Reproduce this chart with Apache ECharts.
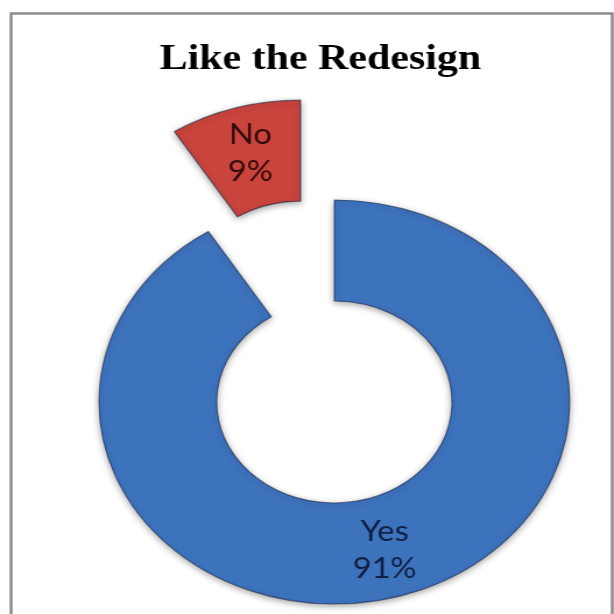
<!DOCTYPE html>
<html>
<head>
<meta charset="utf-8">
<script src="https://cdn.jsdelivr.net/npm/echarts@6/dist/echarts.min.js"></script>
<style>
  html, body { margin: 0; padding: 0; background: #ffffff; overflow: hidden; }
  /* the chart is drawn narrow and stretched sideways, which makes the ring an ellipse */
  #chart { width: 527px; height: 614px; transform: scaleX(1.165); transform-origin: 0 0; }
</style>
</head>
<body>
<div id="chart"></div>
<script>
const chartTitle = 'Like the Redesign';
const categories = ['Yes', 'No'];
const values = [91, 9];
const sliceColors = ['#3d72bd', '#c9443d'];
const labelColors = ['#0f2044', '#330b09'];
const explodedSlice = 'No';

const chart = echarts.init(document.getElementById('chart'), null, { renderer: 'canvas' });

const pieData = categories.map((name, i) => ({
  name: name,
  value: values[i],
  selected: name === explodedSlice,
  itemStyle: { color: sliceColors[i] },
  label: { color: labelColors[i] }
}));

chart.setOption({
  animation: false,
  backgroundColor: '#ffffff',
  title: {
    text: chartTitle,
    left: 270,
    textAlign: 'center',
    top: 37,
    textStyle: {
      fontFamily: '"Liberation Serif", "Times New Roman", serif',
      fontWeight: 'bold',
      fontSize: 36,
      color: '#000000'
    }
  },
  graphic: [{
    type: 'rect',
    silent: true,
    shape: { x: 9.5, y: 13.5, width: 516, height: 700 },
    style: { fill: 'none', stroke: '#8c8c8c', lineWidth: 2.5 }
  }],
  series: [{
    type: 'pie',
    center: [287, 402],
    radius: [101, 202],
    startAngle: 90,
    clockwise: true,
    selectedMode: 'single',
    selectedOffset: 104,
    emphasis: { disabled: true },
    itemStyle: {
      borderColor: 'rgba(15,30,60,0.55)',
      borderWidth: 1.2,
      shadowBlur: 6,
      shadowOffsetY: 2,
      shadowColor: 'rgba(0,0,0,0.35)'
    },
    label: {
      show: true,
      position: 'inside',
      formatter: '{b}\n{d}%',
      fontFamily: 'Lato, "Open Sans", sans-serif',
      fontSize: 28,
      lineHeight: 37
    },
    labelLine: { show: false },
    data: pieData
  }]
});
</script>
</body>
</html>
